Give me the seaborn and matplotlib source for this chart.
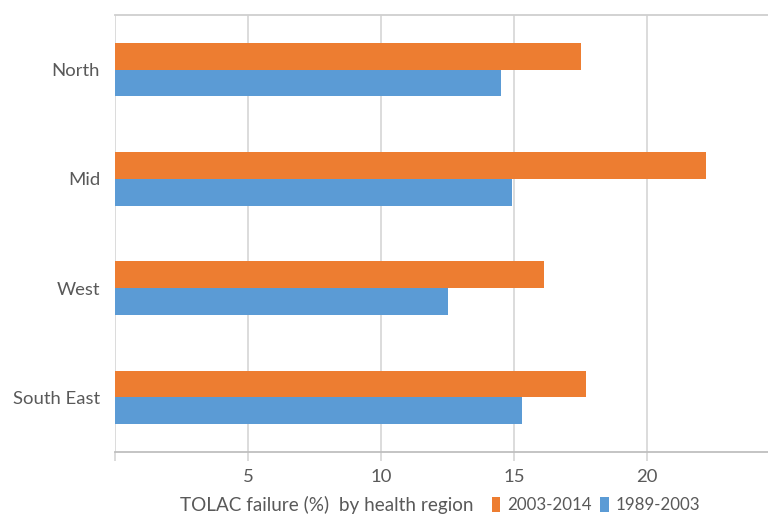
import matplotlib
matplotlib.use("Agg")
import matplotlib.pyplot as plt
import seaborn as sns
import pandas as pd
from matplotlib.patches import Patch

regions = ["North", "Mid", "West", "South East"]
periods = ["2003-2014", "1989-2003"]
failure_2003_2014 = [17.5, 22.2, 16.1, 17.7]
failure_1989_2003 = [14.5, 14.9, 12.5, 15.3]
x_ticks = [0, 5, 10, 15, 20]
x_tick_labels = ["", "5", "10", "15", "20"]

df = pd.DataFrame({
    "region": regions * 2,
    "period": [periods[0]] * 4 + [periods[1]] * 4,
    "failure": failure_2003_2014 + failure_1989_2003,
})

sns.set_style("white")
plt.rcParams["font.family"] = ["Lato", "DejaVu Sans"]

orange = "#ED7D31"
blue = "#5B9BD5"
text_col = "#595959"
grid_col = "#D9D9D9"
fs = 13.3

fig = plt.figure(figsize=(7.68, 5.17), dpi=100)
W, H = 768, 517
x0, x1, y_top, y_bot = 115.3, 768, 15, 452
ax = fig.add_axes([x0 / W, 1 - y_bot / H, (x1 - x0) / W, (y_bot - y_top) / H])

sns.barplot(data=df, y="region", x="failure", hue="period", order=regions,
            hue_order=periods, palette=[orange, blue], orient="h",
            width=0.49, saturation=1, linewidth=0, ax=ax, legend=False)

px_per_unit = (647.3 - 248.3) / 15
ax.set_xlim(0, (x1 - x0) / px_per_unit)
ax.set_ylim(3.5, -0.5)
ax.set_xticks(x_ticks)
ax.set_xticklabels(x_tick_labels)
ax.set_xlabel("")
ax.set_ylabel("")

ax.grid(axis="x", color=grid_col, linewidth=1.3)
ax.grid(axis="y", visible=False)
ax.set_axisbelow(True)

for side in ["left", "right"]:
    ax.spines[side].set_visible(False)
ax.spines["top"].set_color("#CFCFCF")
ax.spines["top"].set_linewidth(1.3)
ax.spines["bottom"].set_color("#BFBFBF")
ax.spines["bottom"].set_linewidth(1.3)

ax.tick_params(axis="x", direction="out", length=6.5, width=1.3, color=grid_col,
               labelsize=fs, labelcolor=text_col, pad=5.5, bottom=True)
ax.tick_params(axis="y", length=0, labelsize=fs, labelcolor=text_col, pad=11)

fig.text(180 / W, 1 - 505 / H, "TOLAC failure (%)  by health region",
         fontsize=13.6, color=text_col, ha="left", va="center")

handles = [Patch(facecolor=orange, edgecolor="none"),
           Patch(facecolor=blue, edgecolor="none")]
fig.legend(handles, periods, loc="center left",
           bbox_to_anchor=(492 / W, 1 - 505 / H), ncol=2, frameon=False,
           fontsize=12.2, labelcolor=text_col, handlelength=0.5,
           handleheight=0.95, handletextpad=0.4, columnspacing=0.5,
           borderpad=0, borderaxespad=0)

fig.savefig("out.png", dpi=100)
